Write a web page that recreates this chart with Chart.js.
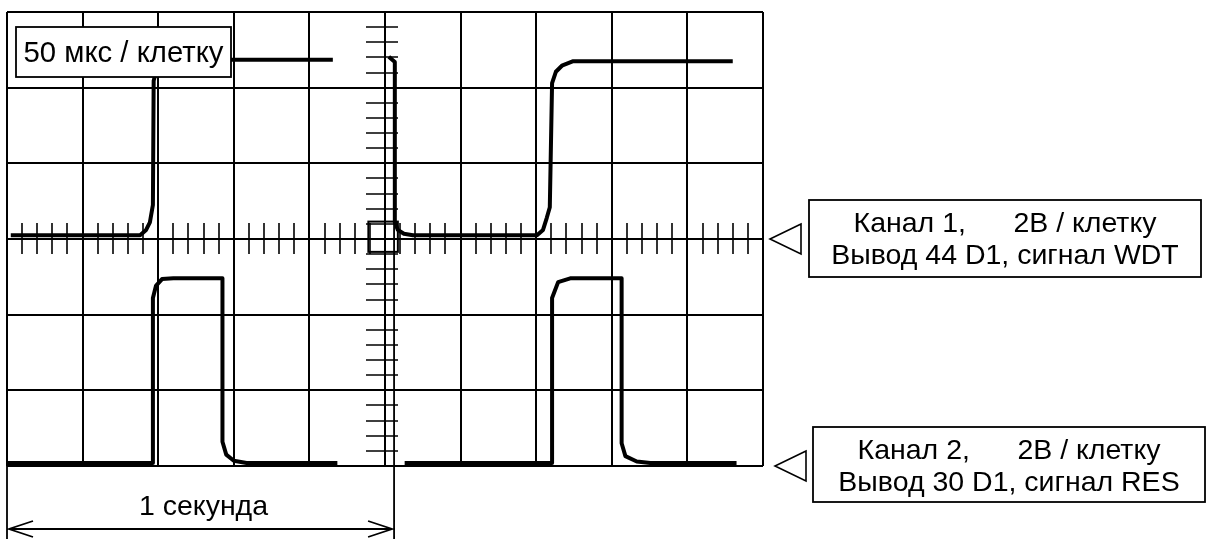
<!DOCTYPE html>
<html>
<head>
<meta charset="utf-8">
<script src="https://cdn.jsdelivr.net/npm/chart.js@4/dist/chart.umd.min.js"></script>
<style>
  html, body { margin: 0; padding: 0; background: #fff; }
  canvas { display: block; }
</style>
</head>
<body>
<canvas id="scope" width="1208" height="539"></canvas>
<script>
  // Screen: 10 x 6 divisions, time in divisions (50 us / div), volts in divisions
  const xDivs = [0, 10];
  const yDivs = [-3, 3];

  // Channel 1 (WDT), two visible pieces
  const ch1A_x = [0.05, 1.76, 1.84, 1.89, 1.93, 1.94, 1.98, 2.05, 2.18, 4.31];
  const ch1A_y = [0.05, 0.05, 0.12, 0.22, 0.45, 2.09, 2.24, 2.33, 2.37, 2.37];
  const ch1B_x = [5.05, 5.13, 5.13, 5.17, 5.25, 5.37, 7.01, 7.09, 7.14, 7.18, 7.21, 7.26, 7.34, 7.49, 9.60];
  const ch1B_y = [2.41, 2.34, 0.22, 0.12, 0.07, 0.05, 0.05, 0.12, 0.28, 0.42, 2.06, 2.21, 2.29, 2.35, 2.35];

  // Channel 2 (RES)
  const ch2A_x = [0.00, 1.93, 1.93, 1.97, 2.05, 2.20, 2.85, 2.85, 2.90, 3.00, 3.17, 4.37];
  const ch2A_y = [-2.96, -2.96, -0.78, -0.62, -0.53, -0.52, -0.52, -2.68, -2.85, -2.93, -2.96, -2.96];
  const ch2B_x = [5.26, 7.21, 7.21, 7.29, 7.45, 8.13, 8.13, 8.18, 8.33, 8.51, 9.65];
  const ch2B_y = [-2.96, -2.96, -0.78, -0.57, -0.52, -0.52, -2.70, -2.87, -2.94, -2.96, -2.96];

  // channel reference levels (markers on the right)
  const chLevels = [0, -3];
  const chLabels = [
    ['Канал 1,      2В / клетку', 'Вывод 44 D1, сигнал WDT'],
    ['Канал 2,      2В / клетку', 'Вывод 30 D1, сигнал RES']
  ];
  const timeLabel = '50 мкс / клетку';
  const spanLabel = '1 секунда';
  const span = [0, 5.12];

  const FONT = '28.5px "Liberation Sans", Arial, sans-serif';

  const toPoints = (xs, ys) => xs.map((x, i) => ({ x: x, y: ys[i] }));

  const trace = (xs, ys) => ({
    data: toPoints(xs, ys),
    showLine: true,
    borderColor: '#000',
    borderWidth: 4,
    pointRadius: 0,
    tension: 0,
    borderJoinStyle: 'round',
    borderCapStyle: 'butt'
  });

  const scopeGrid = {
    id: 'scopeGrid',
    beforeDatasetsDraw(chart) {
      const { ctx, chartArea: a, scales: { x, y } } = chart;
      ctx.save();
      ctx.strokeStyle = '#000';
      ctx.lineWidth = 2;
      ctx.beginPath();
      for (let i = xDivs[0]; i <= xDivs[1]; i++) {
        const px = Math.round(x.getPixelForValue(i));
        ctx.moveTo(px, a.top);
        ctx.lineTo(px, a.bottom);
      }
      for (let j = yDivs[0]; j <= yDivs[1]; j++) {
        const py = Math.round(y.getPixelForValue(j));
        ctx.moveTo(a.left, py);
        ctx.lineTo(a.right, py);
      }
      ctx.stroke();

      // minor ticks on the centre axes
      ctx.lineWidth = 1.6;
      ctx.beginPath();
      const cx = x.getPixelForValue(5), cy = y.getPixelForValue(0);
      for (let k = 1; k < 50; k++) {
        if (k % 5 === 0) continue;
        const px = Math.round(x.getPixelForValue(k / 5));
        ctx.moveTo(px, cy - 16);
        ctx.lineTo(px, cy + 15);
      }
      for (let k = -14; k < 15; k++) {
        if (k % 5 === 0) continue;
        const py = Math.round(y.getPixelForValue(k / 5));
        ctx.moveTo(cx - 19, py);
        ctx.lineTo(cx + 13, py);
      }
      ctx.stroke();

      // centre square
      const sx0 = x.getPixelForValue(4.78), sx1 = x.getPixelForValue(5.17);
      const sy0 = y.getPixelForValue(0.23), sy1 = y.getPixelForValue(-0.17);
      ctx.lineWidth = 2;
      ctx.strokeRect(sx0, sy0, sx1 - sx0, sy1 - sy0);
      ctx.restore();
    },
    afterDatasetsDraw(chart) {
      const { ctx, chartArea: a, scales: { x, y } } = chart;
      ctx.save();
      ctx.fillStyle = '#000';
      ctx.strokeStyle = '#000';
      ctx.textAlign = 'center';
      ctx.textBaseline = 'alphabetic';

      // time base label (covers the trace behind it)
      ctx.font = '29.3px "Liberation Sans", Arial, sans-serif';
      ctx.fillStyle = '#fff';
      ctx.fillRect(16, 27, 215, 50);
      ctx.lineWidth = 1.8;
      ctx.strokeRect(16, 27, 215, 50);
      ctx.fillStyle = '#000';
      ctx.fillText(timeLabel, 123.5, 62);

      // channel markers and labels
      ctx.font = FONT;
      chLevels.forEach((lvl, i) => {
        const py = y.getPixelForValue(lvl);
        const tip = a.right + 7 + i * 5;
        ctx.lineWidth = 1.6;
        ctx.beginPath();
        ctx.moveTo(tip + 31, py - 15);
        ctx.lineTo(tip, py);
        ctx.lineTo(tip + 31, py + 15);
        ctx.closePath();
        ctx.stroke();
        const bx = a.right + 46 + i * 4, by = py - 39;
        ctx.lineWidth = 1.8;
        ctx.strokeRect(bx, by, 392, i === 0 ? 77 : 75);
        ctx.fillText(chLabels[i][0], bx + 196, by + 32);
        ctx.fillText(chLabels[i][1], bx + 196, by + 64);
      });

      // "1 second" dimension
      const x0 = x.getPixelForValue(span[0]), x1 = x.getPixelForValue(span[1]);
      const ay = 529;
      ctx.lineWidth = 1.8;
      ctx.beginPath();
      ctx.moveTo(x0, a.bottom);
      ctx.lineTo(x0, chart.height);
      ctx.moveTo(x1, y.getPixelForValue(0.3));
      ctx.lineTo(x1, chart.height);
      ctx.moveTo(x0 + 2, ay);
      ctx.lineTo(x1 - 2, ay);
      ctx.moveTo(x0 + 26, ay - 8);
      ctx.lineTo(x0 + 2, ay);
      ctx.lineTo(x0 + 26, ay + 8);
      ctx.moveTo(x1 - 26, ay - 8);
      ctx.lineTo(x1 - 2, ay);
      ctx.lineTo(x1 - 26, ay + 8);
      ctx.stroke();
      ctx.fillText(spanLabel, (x0 + x1) / 2 + 3, 515);
      ctx.restore();
    }
  };

  new Chart(document.getElementById('scope'), {
    type: 'scatter',
    data: {
      datasets: [
        trace(ch1A_x, ch1A_y),
        trace(ch1B_x, ch1B_y),
        trace(ch2A_x, ch2A_y),
        trace(ch2B_x, ch2B_y)
      ]
    },
    options: {
      responsive: false,
      animation: false,
      layout: { padding: { left: 7, top: 12, right: 445, bottom: 73 } },
      scales: {
        x: { type: 'linear', min: xDivs[0], max: xDivs[1], display: false },
        y: { type: 'linear', min: yDivs[0], max: yDivs[1], display: false }
      },
      plugins: {
        legend: { display: false },
        tooltip: { enabled: false }
      }
    },
    plugins: [scopeGrid]
  });
</script>
</body>
</html>
